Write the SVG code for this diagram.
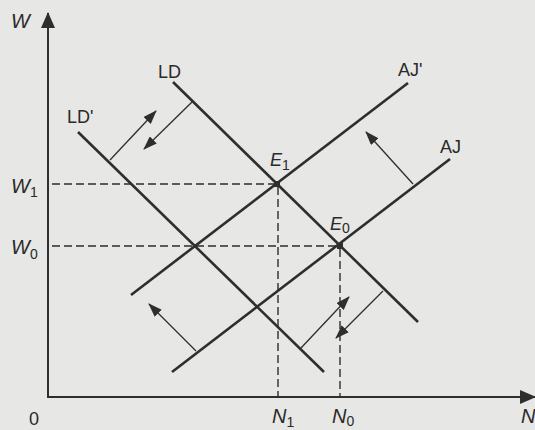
<svg xmlns="http://www.w3.org/2000/svg" width="535" height="430" viewBox="0 0 535 430">
<defs>
<marker id="ah" markerUnits="userSpaceOnUse" markerWidth="14" markerHeight="10" refX="13" refY="5" orient="auto"><path d="M0,0 L14,5 L0,10 z" fill="#2e2e2e"/></marker>
<marker id="axh" markerUnits="userSpaceOnUse" markerWidth="16" markerHeight="14" refX="15" refY="7" orient="auto"><path d="M0,0 L16,7 L0,14 z" fill="#2e2e2e"/></marker>
</defs>
<style>
.bg{fill:#e7e7e5}
.axis{stroke:#2e2e2e;stroke-width:2;fill:none}
.curve{stroke:#2e2e2e;stroke-width:2.6;fill:none;stroke-linecap:butt}
.dash{stroke:#2e2e2e;stroke-width:1.4;stroke-dasharray:8,4;fill:none}
.arr{stroke:#2e2e2e;stroke-width:1.3;fill:none}
text{font-family:"Liberation Sans",Arial,sans-serif;fill:#2a2a2a;font-size:18px}
.it{font-style:italic;font-size:20px}
.e{font-style:italic;font-size:18px}
.sub{font-size:14px;font-style:normal}
</style>
<rect class="bg" x="0" y="0" width="535" height="430"/>
<g id="axes">
<line class="axis" x1="48" y1="397" x2="48" y2="13" marker-end="url(#axh)"/>
<line class="axis" x1="47" y1="397" x2="535" y2="397" marker-end="url(#axh)"/>
<text class="it" x="11" y="28">W</text>
<text x="29" y="425">0</text>
<text class="it" x="521" y="423">N</text>
</g>
<g id="guides">
<line class="dash" x1="52" y1="184" x2="277" y2="184"/>
<line class="dash" x1="52" y1="246" x2="340" y2="246"/>
<line class="dash" x1="278" y1="187" x2="278" y2="396"/>
<line class="dash" x1="340" y1="249" x2="340" y2="396"/>
</g>
<g id="LD">
<line class="curve" x1="173" y1="82" x2="418" y2="322"/>
<text x="158" y="78">LD</text>
</g>
<g id="LDprime">
<line class="curve" x1="78" y1="132" x2="324" y2="372"/>
<text x="67" y="123">LD'</text>
</g>
<g id="AJprime">
<line class="curve" x1="408" y1="83" x2="131" y2="295"/>
<text x="398" y="76">AJ'</text>
</g>
<g id="AJ">
<line class="curve" x1="450" y1="159" x2="172" y2="372"/>
<text x="440" y="153">AJ</text>
</g>
<g id="E1">
<rect x="274" y="181" width="6" height="6" fill="#2e2e2e"/>
<text class="e" x="270" y="166">E<tspan class="sub" dy="4">1</tspan></text>
</g>
<g id="E0">
<rect x="337" y="243" width="6" height="6" fill="#2e2e2e"/>
<text class="e" x="330" y="230">E<tspan class="sub" dy="3">0</tspan></text>
</g>
<g id="W1"><text class="it" x="11" y="193">W<tspan class="sub" dy="4">1</tspan></text></g>
<g id="W0"><text class="it" x="11" y="254">W<tspan class="sub" dy="5">0</tspan></text></g>
<g id="N1"><text class="it" x="272" y="423">N<tspan class="sub" dy="4">1</tspan></text></g>
<g id="N0"><text class="it" x="332" y="423">N<tspan class="sub" dy="3">0</tspan></text></g>
<g id="connectors">
<line class="arr" x1="110" y1="160" x2="156" y2="111" marker-end="url(#ah)"/>
<line class="arr" x1="192" y1="102" x2="144" y2="149" marker-end="url(#ah)"/>
<line class="arr" x1="301" y1="348" x2="349" y2="297" marker-end="url(#ah)"/>
<line class="arr" x1="383" y1="291" x2="336" y2="338" marker-end="url(#ah)"/>
<line class="arr" x1="413" y1="184" x2="366" y2="132" marker-end="url(#ah)"/>
<line class="arr" x1="196" y1="351" x2="149" y2="304" marker-end="url(#ah)"/>
</g>
</svg>
